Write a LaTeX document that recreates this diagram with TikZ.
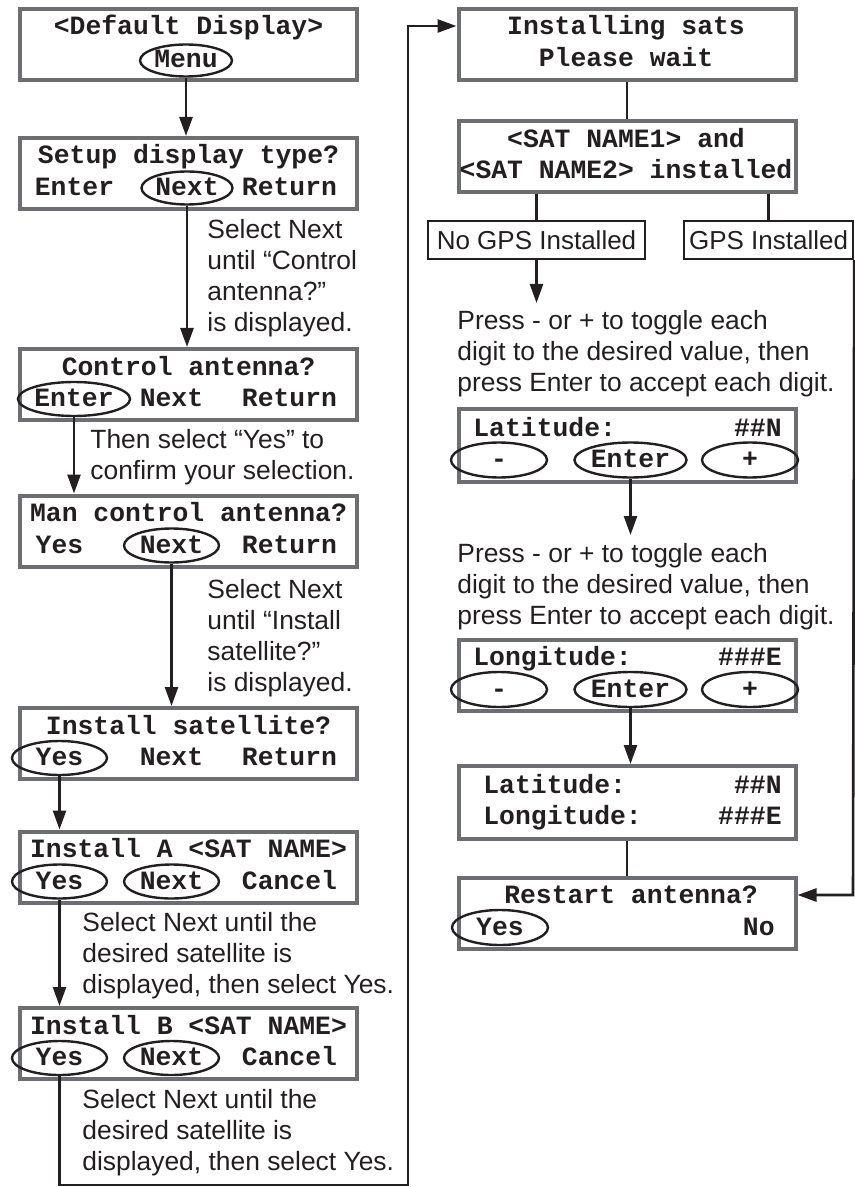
\documentclass[tikz,border=0pt]{standalone}
\usepackage{fontspec}
\setmainfont{Liberation Sans}
\newfontfamily\lcdfont{Liberation Mono}
\definecolor{ScreenGray}{HTML}{6D6E71}
\definecolor{InkBlack}{HTML}{231F20}
\usetikzlibrary{arrows.meta,shapes.geometric,calc}

\tikzset{
  screen/.style={draw=ScreenGray, line width=2pt, inner sep=0pt,
    minimum width=168.5pt, minimum height=35.5pt},
  lcd/.style={font=\lcdfont\bfseries\fontsize{13.2}{15}\selectfont,
    text=InkBlack, inner sep=0pt, anchor=base},
  btn/.style={lcd, ellipse, draw=InkBlack, line width=1.2pt,
    minimum width=47.5pt, minimum height=17pt,
    text height=7.5pt, text depth=0pt},
  note/.style={font=\fontsize{13.2}{15.4}\selectfont, text=InkBlack,
    align=left, inner sep=0pt, anchor=base west},
  tag/.style={draw=InkBlack, line width=1.2pt, inner sep=0pt,
    font=\fontsize{13}{15.3}\selectfont, text=InkBlack,
    minimum height=19pt},
  link/.style={draw=InkBlack, line width=1.3pt},
  arr/.style={link, -{Triangle[length=9.5pt,width=6.5pt]}}
}

\begin{document}
\begin{tikzpicture}[x=0.5pt, y=-0.5pt]
  \useasboundingbox (0,0) rectangle (855,1187);

  % left column screens
  \node[screen] (b1) at (188.5,44.5) {};
  \node[screen] (b2) at (188.5,173.5) {};
  \node[screen] (b3) at (188.5,384.5) {};
  \node[screen] (b4) at (188.5,531) {};
  \node[screen] (b5) at (188.5,743.5) {};
  \node[screen] (b6) at (188.5,867) {};
  \node[screen] (b7) at (188.5,1043.5) {};

  \node[lcd] (t1) at (188.5,35) {<Default Display>};
  \node[btn, minimum width=46pt, minimum height=16pt] (menu) at (186,68) {Menu};

  \node[lcd] (t2) at (188.5,164) {Setup display type?};
  \node[lcd] (en2) at (74.5,195.5) {Enter};
  \node[btn, minimum width=45.5pt, minimum height=16.5pt] (nx2) at (187,195.5) {Next};
  \node[lcd] (rt2) at (289.5,195.5) {Return};

  \node[lcd] (t3) at (188.5,375) {Control antenna?};
  \node[btn] (en3) at (74,406.5) {Enter};
  \node[lcd] (nx3) at (171.5,406.5) {Next};
  \node[lcd] (rt3) at (289.5,406.5) {Return};

  \node[lcd] (t4) at (188.5,521.5) {Man control antenna?};
  \node[lcd] (ys4) at (59.5,553) {Yes};
  \node[btn] (nx4) at (171.5,553) {Next};
  \node[lcd] (rt4) at (289.5,553) {Return};

  \node[lcd] (t5) at (188.5,734) {Install satellite?};
  \node[btn] (ys5) at (59.5,765.5) {Yes};
  \node[lcd] (nx5) at (171.5,765.5) {Next};
  \node[lcd] (rt5) at (289.5,765.5) {Return};

  \node[lcd] (t6) at (188.5,857.5) {Install A <SAT NAME>};
  \node[btn] (ys6) at (59.5,889) {Yes};
  \node[btn] (nx6) at (171.5,889) {Next};
  \node[lcd] (cn6) at (289.5,889) {Cancel};

  \node[lcd] (t7) at (188.5,1034) {Install B <SAT NAME>};
  \node[btn] (ys7) at (59.5,1065.5) {Yes};
  \node[btn] (nx7) at (171.5,1065.5) {Next};
  \node[lcd] (cn7) at (289.5,1065.5) {Cancel};

  \node[note] (n1) at (207,331) {Select Next\\until “Control\\antenna?”\\is displayed.};
  \node[note] (n2) at (90,479) {Then select “Yes” to\\confirm your selection.};
  \node[note] (n3) at (207,691) {Select Next\\until “Install\\satellite?”\\is displayed.};
  \node[note] (n4) at (82,993) {Select Next until the\\desired satellite is\\displayed, then select Yes.};
  \node[note] (n5) at (82,1170) {Select Next until the\\desired satellite is\\displayed, then select Yes.};

  % right column screens
  \node[screen] (b8) at (627,44.5) {};
  \node[screen] (b9) at (627,157) {};
  \node[screen, minimum height=36.5pt] (b10) at (627,445.5) {};
  \node[screen] (b11) at (627,675) {};
  \node[screen, minimum height=36.5pt] (b12) at (627,802.5) {};
  \node[screen] (b13) at (627,913) {};

  \node[lcd] (t8a) at (626,35) {Installing sats};
  \node[lcd] (t8b) at (626,66.5) {Please wait};
  \node[lcd] (t9a) at (626,147.5) {<SAT NAME1> and};
  \node[lcd] (t9b) at (626,179) {<SAT NAME2> installed};

  \node[tag, minimum width=108.5pt] (nogps) at (536.5,240) {No GPS Installed};
  \node[tag, minimum width=84.5pt] (gps) at (768.5,240) {GPS Installed};

  \node[note] (n6) at (457,391) {Press - or + to toggle each\\digit to the desired value, then\\press Enter to accept each digit.};

  \node[lcd, anchor=base west] (la10) at (473,436) {Latitude:};
  \node[lcd, anchor=base east] (lv10) at (782,436) {\#\#N};
  \node[btn, minimum width=48pt, minimum height=17.5pt] (mi10) at (499,467.5) {-};
  \node[btn, minimum width=48pt, minimum height=17.5pt] (en10) at (630.5,467.5) {Enter};
  \node[btn, minimum width=48pt, minimum height=17.5pt] (pl10) at (750,467.5) {+};

  \node[note] (n7) at (457,624) {Press - or + to toggle each\\digit to the desired value, then\\press Enter to accept each digit.};

  \node[lcd, anchor=base west] (lo11) at (473,665.5) {Longitude:};
  \node[lcd, anchor=base east] (lv11) at (782,665.5) {\#\#\#E};
  \node[btn, minimum width=48pt, minimum height=17.5pt] (mi11) at (499,697) {-};
  \node[btn, minimum width=48pt, minimum height=17.5pt] (en11) at (630.5,697) {Enter};
  \node[btn, minimum width=48pt, minimum height=17.5pt] (pl11) at (750,697) {+};

  \node[lcd, anchor=base west] (la12) at (483,793) {Latitude:};
  \node[lcd, anchor=base east] (lv12) at (782,793) {\#\#N};
  \node[lcd, anchor=base west] (lo12) at (483,824.5) {Longitude:};
  \node[lcd, anchor=base east] (lw12) at (782,824.5) {\#\#\#E};

  \node[lcd] (t13) at (631,903.5) {Restart antenna?};
  \node[btn, minimum width=48pt, minimum height=17.5pt] (ys13) at (500,935) {Yes};
  \node[lcd, anchor=base east] (no13) at (775,935) {No};

  % connectors
  \coordinate (loopbot) at (408,1185);
  \coordinate (looptop) at (408,26);
  \coordinate (tipA) at (537,303);
  \coordinate (tipB) at (630.5,535);
  \coordinate (gpsbend) at (853,895);

  \draw[arr] (menu.south) -- (menu.south |- b2.north);
  \draw[arr] (nx2.south) -- (nx2.south |- b3.north);
  \draw[arr] (en3.south) -- (en3.south |- b4.north);
  \draw[arr] (nx4.south) -- (nx4.south |- b5.north);
  \draw[arr] (ys5.south) -- (ys5.south |- b6.north);
  \draw[arr] (ys6.south) -- (ys6.south |- b7.north);
  \draw[arr] (ys7.south) |- (loopbot) -- (looptop) -- (looptop -| b8.west);

  \draw[link] (b8.south) -- (b9.north);
  \draw[link] (nogps.north |- b9.south) -- (nogps.north);
  \draw[link] (gps.north |- b9.south) -- (gps.north);
  \draw[arr] (nogps.south) -- (nogps.south |- tipA);
  \draw[arr] (en10.south) -- (en10.south |- tipB);
  \draw[arr] (en11.south) -- (en11.south |- b12.north);
  \draw[link] (b12.south) -- (b13.north);
  \draw[arr] (gps.south east) -- (gpsbend) -- (gpsbend -| b13.east);
\end{tikzpicture}
\end{document}
